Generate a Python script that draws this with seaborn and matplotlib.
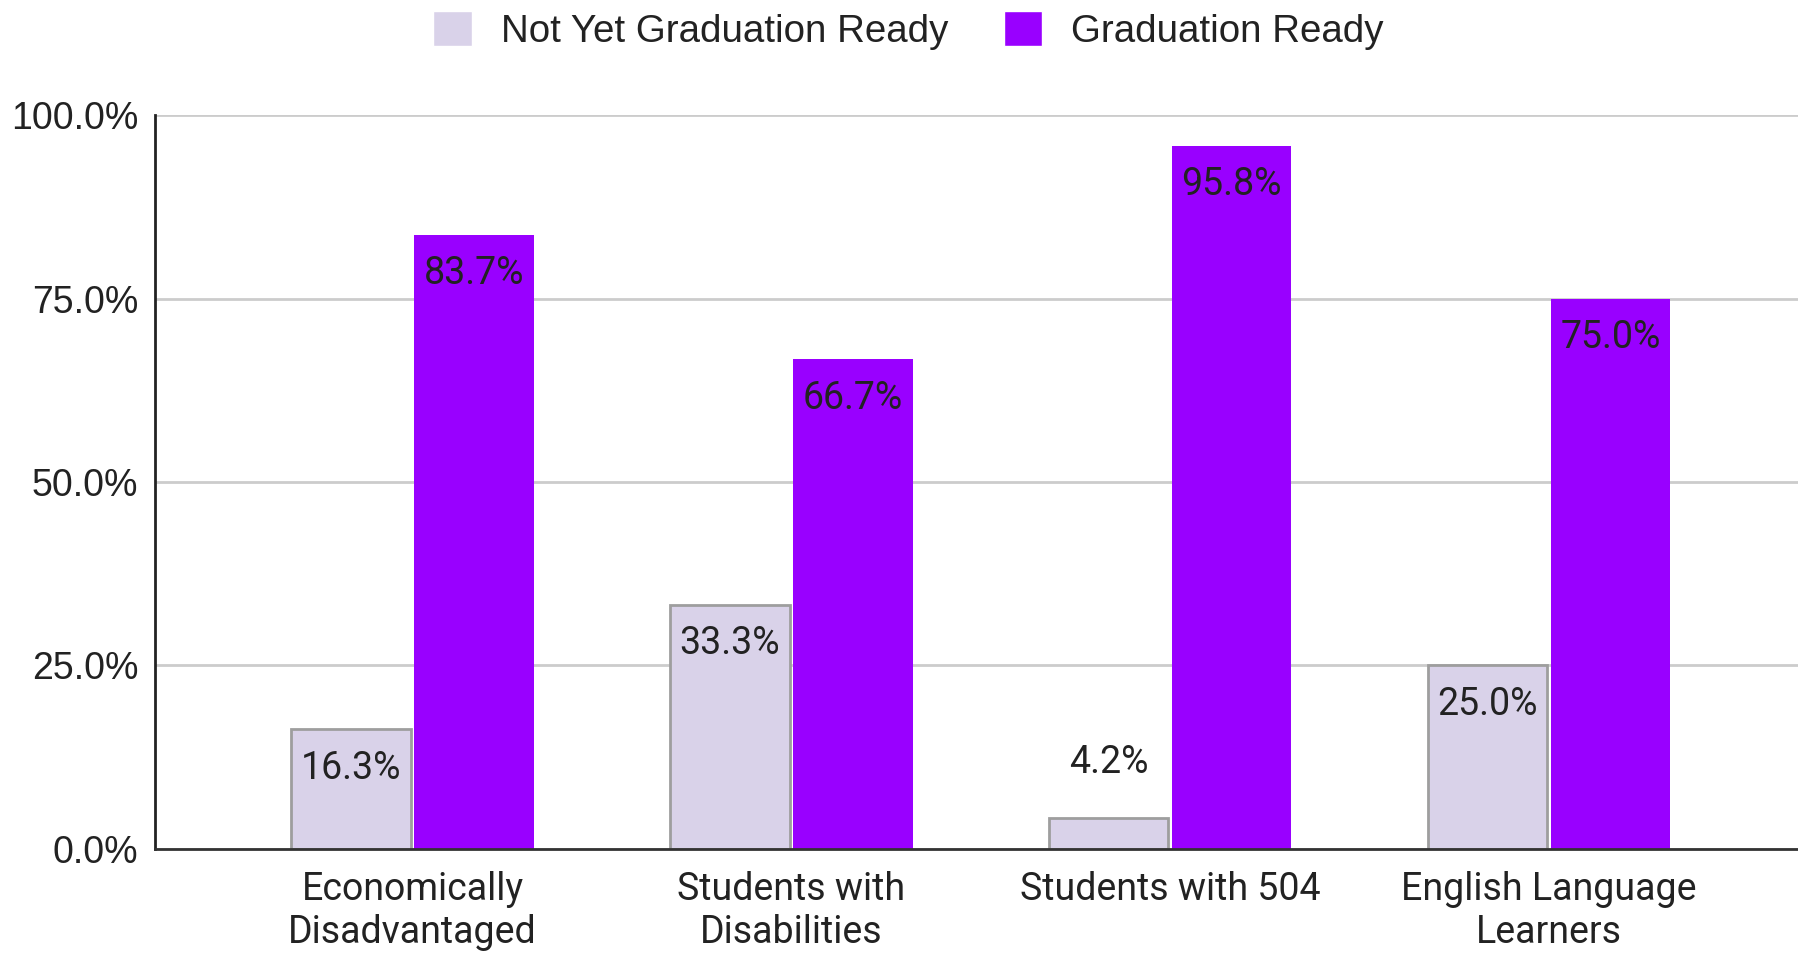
import pandas as pd
import matplotlib.pyplot as plt
import seaborn as sns
from matplotlib.ticker import PercentFormatter

# chart data
groups = ["Economically\nDisadvantaged", "Students with\nDisabilities",
          "Students with 504", "English Language\nLearners"]
series = ["Not Yet Graduation Ready", "Graduation Ready"]
not_ready = [16.3, 33.3, 4.2, 25.0]
ready = [83.7, 66.7, 95.8, 75.0]
y_ticks = [0, 25, 50, 75, 100]

colors = {"Not Yet Graduation Ready": "#d9d2e9", "Graduation Ready": "#9900ff"}

df = pd.DataFrame({
    "Group": groups * 2,
    "Series": [series[0]] * len(groups) + [series[1]] * len(groups),
    "Value": not_ready + ready,
})

sns.set_theme(style="white")
plt.rcParams["font.family"] = ["Roboto", "DejaVu Sans"]
plt.rcParams["text.color"] = "#222222"

fig = plt.figure(figsize=(17.99, 9.57), dpi=100)
ax = fig.add_axes([0.0862, 0.1129, 0.9138, 0.7669])

sns.barplot(data=df, x="Group", y="Value", hue="Series", hue_order=series,
            palette=colors, width=0.65, gap=0.03, saturation=1, ax=ax)

# gray outline on the light bars only
for p in ax.containers[0]:
    p.set_edgecolor("#9e9e9e")
    p.set_linewidth(2)
for p in ax.containers[1]:
    p.set_edgecolor("none")

# value labels: inside near the top, or above when the bar is too short
for cont in ax.containers:
    for p in cont:
        h = p.get_height()
        x = p.get_x() + p.get_width() / 2
        off = -28 if h > 10 else 40
        ax.annotate(f"{h:.1f}%", (x, h), xytext=(0, off), textcoords="offset points",
                    ha="center", va="center", fontsize=27, color="#222222")

ax.set_ylim(0, 100)
ax.set_xlim(-0.68, 3.66)
ax.set_yticks(y_ticks)
ax.yaxis.set_major_formatter(PercentFormatter(decimals=1))
ax.yaxis.grid(True, color="#cccccc", linewidth=2)
ax.set_axisbelow(True)
ax.set_xlabel("")
ax.set_ylabel("")
ax.tick_params(axis="both", labelsize=27, colors="#222222", length=0)
ax.tick_params(axis="x", pad=16)
ax.tick_params(axis="y", pad=12)
for t in ax.get_yticklabels():
    t.set_family(["Liberation Sans", "DejaVu Sans"])
for side in ["top", "right"]:
    ax.spines[side].set_visible(False)
ax.spines["left"].set_color("#222222")
ax.spines["left"].set_linewidth(2)
ax.spines["bottom"].set_color("#333333")
ax.spines["bottom"].set_linewidth(2)

handles, labels = ax.get_legend_handles_labels()
ax.get_legend().remove()
fig.legend(handles, labels, loc="center", bbox_to_anchor=(0.505, 0.968), ncol=2,
           frameon=False, prop={"family": ["Liberation Sans", "DejaVu Sans"], "size": 27.7},
           handlelength=1.0, handleheight=1.0, handletextpad=0.75, columnspacing=1.45)

plt.savefig("out.png", dpi=100)
plt.close()
